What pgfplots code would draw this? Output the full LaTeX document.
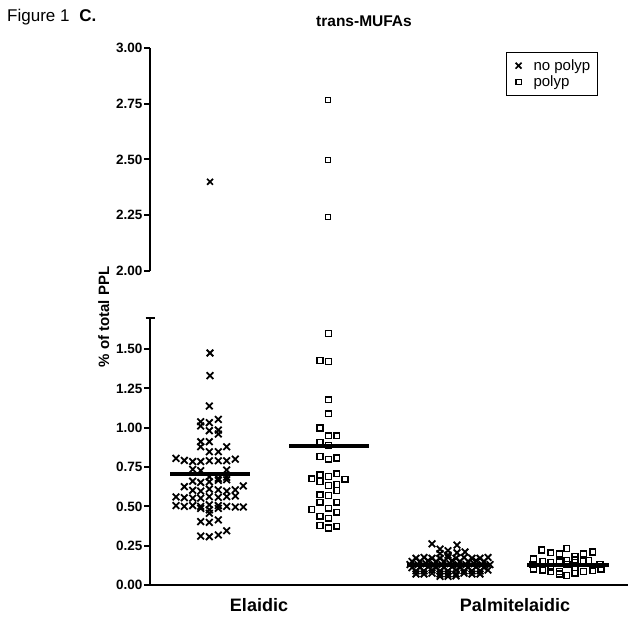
\documentclass[border=0pt]{standalone}
\usepackage{pgfplots}
\pgfplotsset{compat=1.18}
\usepackage{fontspec}
\setmainfont{Liberation Sans}

\pgfplotsset{
 common/.style={
  scale only axis, width=478pt, xmin=150, xmax=628,
  axis x line*=bottom, axis y line*=left,
  axis line style={line width=2.2pt, -},
  ytick pos=left, tick style={line width=2pt, black}, major tick length=6pt, tick align=outside,
  /pgf/number format/assume math mode=true,
  /pgf/number format/fixed, /pgf/number format/fixed zerofill, /pgf/number format/precision=2,
  yticklabel style={font=\fontsize{13.5}{15}\selectfont\bfseries, inner sep=1.5pt},
  clip=false,
 },
 nop/.style={only marks, mark=x, mark size=4.7pt, mark options={line width=1.8pt, solid}, black},
 pol/.style={only marks, mark=square, mark size=2.9pt, mark options={line width=1.4pt, solid}, black},
 med/.style={line width=4pt, black, no marks, forget plot},
}

\begin{document}
\begin{tikzpicture}
\path[use as bounding box] (0,0) rectangle (644pt,621pt);

% lower segment
\begin{axis}[common, at={(150pt,36pt)}, anchor=south west, height=267.4pt,
  ymin=0, ymax=1.7, ytick={0,0.25,0.5,0.75,1,1.25,1.5},
  xtick={259,515}, xticklabels={Elaidic,Palmitelaidic}, xtick pos=bottom,
  x tick style={draw=none},
  xticklabel style={font=\fontsize{18}{20}\selectfont\bfseries, yshift=-4pt},
  extra y ticks={1.7}, extra y tick labels={},
  extra y tick style={tick align=center, major tick length=9pt}]
% Elaidic, no polyp
\addplot[nop] coordinates {
(210,1.475)(210,1.331)(209.3,1.138)
(200.7,1.038)(209.3,1.032)(218.3,1.053)(200.7,1.011)
(209.3,0.981)(218.3,0.985)(218.3,0.960)
(200.7,0.911)(209.3,0.911)(200.7,0.879)
(209.3,0.847)(218.3,0.847)(226.7,0.879)
(176,0.805)(184.3,0.792)(192.7,0.785)(200.7,0.785)(209.3,0.790)(218.3,0.790)(226.7,0.790)(235.3,0.800)
(192.7,0.735)(200.7,0.727)(226.7,0.731)
(209.3,0.688)(218.3,0.678)(226.7,0.685)
(192.7,0.660)(200.7,0.652)(209.3,0.656)(218.3,0.665)(226.7,0.669)
(184.3,0.625)(192.7,0.602)(200.7,0.597)(209.3,0.610)(218.3,0.605)(226.7,0.597)(235.3,0.605)(243.3,0.630)
(176,0.560)(184.3,0.555)(192.7,0.552)(200.7,0.552)(209.3,0.562)(218.3,0.557)(226.7,0.562)(235.3,0.566)
(176,0.505)(184.3,0.500)(192.7,0.505)(200.7,0.500)(209.3,0.510)(218.3,0.505)(226.7,0.500)(235.3,0.496)(243.3,0.496)
(200.7,0.487)(209.3,0.478)(218.3,0.487)
(209.3,0.456)
(200.7,0.403)(209.3,0.398)(218.3,0.414)
(200.7,0.311)(209.3,0.307)(218.3,0.318)(226.7,0.345)
};
% Elaidic, polyp
\addplot[pol] coordinates {
(328.3,1.598)(320,1.428)(328.3,1.420)(328.3,1.178)(328.3,1.089)(320,0.998)
(328.3,0.948)(336.7,0.948)(320,0.905)(328.3,0.886)(320,0.817)(328.3,0.800)(336.7,0.808)
(320,0.700)(328.3,0.690)(336.7,0.707)(311.7,0.675)(320,0.658)(345,0.673)
(328.3,0.632)(336.7,0.638)(336.7,0.600)(320,0.573)(328.3,0.568)(320,0.526)(336.7,0.526)
(311.7,0.481)(328.3,0.488)(336.7,0.463)(320,0.437)(328.3,0.425)
(320,0.378)(328.3,0.363)(336.7,0.374)
};
% Palmitelaidic, no polyp
\addplot[nop] coordinates {
(432,0.262)(457,0.254)(440,0.228)(448,0.218)(465,0.210)(440,0.200)(457,0.205)(448,0.190)
(416,0.170)(424,0.175)(432,0.170)(440,0.170)(448,0.175)(456,0.170)(464,0.175)(472,0.170)(480,0.170)(488,0.175)
(412,0.150)(420,0.150)(428,0.155)(436,0.150)(444,0.150)(452,0.155)(460,0.150)(468,0.150)(476,0.155)(484,0.150)
(410,0.130)(418,0.130)(426,0.135)(434,0.130)(442,0.130)(450,0.135)(458,0.130)(466,0.130)(474,0.135)(482,0.130)(490,0.130)
(412,0.110)(420,0.110)(428,0.115)(436,0.110)(444,0.110)(452,0.115)(460,0.110)(468,0.110)(476,0.115)(484,0.110)
(416,0.090)(424,0.090)(432,0.095)(440,0.090)(448,0.090)(456,0.095)(464,0.090)(472,0.090)(480,0.090)(488,0.095)
(416,0.070)(424,0.070)(432,0.075)(440,0.070)(448,0.070)(456,0.070)(464,0.075)(472,0.070)(480,0.070)
(440,0.055)(448,0.055)(456,0.058)
};
% Palmitelaidic, polyp
\addplot[pol] coordinates {
(541.7,0.222)(550.7,0.205)(559.3,0.197)(566.7,0.233)(575,0.180)(583.3,0.197)(592.7,0.210)
(533.3,0.165)(542.7,0.150)(550.7,0.145)(559.3,0.147)(566.7,0.155)(575,0.160)(583.3,0.150)(588.3,0.155)
(533,0.130)(600,0.130)(567,0.130)
(533.3,0.100)(542.7,0.095)(550.7,0.085)(559.3,0.085)(566.7,0.060)(575,0.075)(583.3,0.085)(592.7,0.090)(601,0.100)
(550.7,0.115)(575,0.110)(559.3,0.070)
};
% medians
\addplot[med] coordinates {(170,0.705)(250,0.705)};
\addplot[med] coordinates {(289,0.886)(369,0.886)};
\addplot[med] coordinates {(407,0.130)(490,0.130)};
\addplot[med] coordinates {(527,0.130)(609,0.130)};
\end{axis}

% upper segment
\begin{axis}[common, at={(150pt,350pt)}, anchor=south west, height=223pt,
  ymin=2, ymax=3, ytick={2,2.25,2.5,2.75,3}, axis x line=none,
  legend style={at={(0.745,0.982)}, anchor=north west, draw=black, line width=0.9pt,
    font=\fontsize{15}{17}\selectfont, inner xsep=5pt, inner ysep=5pt,
    row sep=0pt, legend cell align=left},
  legend image code/.code={\path[draw=none, fill=none] (0pt,-3pt) rectangle (20pt,3pt); \draw[#1] plot coordinates {(7pt,0pt)};}]
\addplot[nop, mark size=4.2pt, mark options={line width=1.7pt}] coordinates {(210,2.400)};
\addlegendentry{no polyp}
\addplot[pol, mark size=2.7pt] coordinates {(328,2.767)(328,2.498)(328,2.242)};
\addlegendentry{polyp}
\end{axis}

\node[anchor=base west, font=\fontsize{17}{19}\selectfont, inner sep=0pt] at (7pt,599pt) {Figure 1\hspace{5pt} \textbf{C.}};
\node[anchor=base west, font=\fontsize{15.5}{18}\selectfont\bfseries, inner sep=0pt] at (316pt,594pt) {trans-MUFAs};
\node[rotate=90, anchor=base, font=\fontsize{15}{17}\selectfont\bfseries, inner sep=0pt] at (109pt,304pt) {\% of total PPL};
\end{tikzpicture}
\end{document}
